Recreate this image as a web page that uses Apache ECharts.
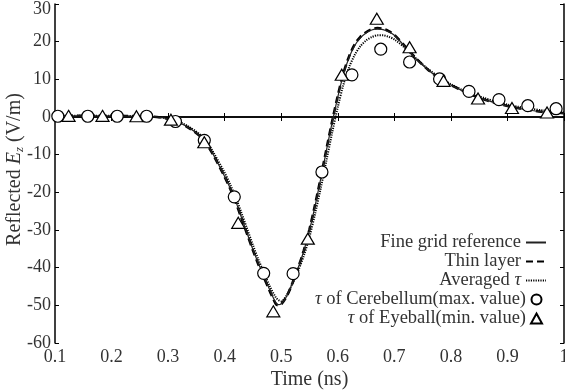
<!DOCTYPE html>
<html>
<head>
<meta charset="utf-8">
<script src="https://cdn.jsdelivr.net/npm/echarts@6/dist/echarts.min.js"></script>
<style>html,body{margin:0;padding:0;background:#fff}#c{width:565px;height:391px}</style>
</head>
<body>
<div id="c"></div>
<script>
const xCurve = [0.10,0.15,0.20,0.25,0.28,0.30,0.32,0.34,0.36,0.37,0.38,0.40,0.41,0.42,0.43,0.44,0.45,0.46,0.47,0.48,0.49,0.495,0.50,0.51,0.52,0.53,0.54,0.55,0.56,0.57,0.58,0.59,0.60,0.61,0.62,0.63,0.64,0.65,0.66,0.67,0.68,0.69,0.70,0.72,0.74,0.76,0.78,0.80,0.82,0.84,0.86,0.88,0.90,0.92,0.94,0.96,0.98,1.00];
const yFine = [0.3,0.3,0.3,0.2,0,-0.5,-1.5,-3.2,-5.5,-7.5,-10,-15.8,-19,-22.6,-26.8,-31,-35.2,-39,-42.5,-46,-49.2,-49.8,-49.6,-47.5,-44,-40,-35.5,-30,-23.5,-16.3,-8.8,-1.5,5.3,11.3,15.8,19,21,22.3,23.1,23.4,23.2,22.6,21.7,18.5,15.2,12.5,10.2,8.5,7.0,5.7,4.6,3.7,2.9,2.3,1.8,1.4,1.2,1.0];
const yThin = [0.3,0.3,0.3,0.2,0,-0.5,-1.5,-3.2,-5.6,-7.6,-10.1,-15.9,-19.1,-22.8,-27,-31.2,-35.4,-39.3,-42.8,-46.3,-49.5,-50,-49.7,-47.5,-44,-40,-35.4,-29.8,-23.2,-16,-8.5,-1.2,5.6,11.6,16.1,19.3,21.3,22.5,23.3,23.6,23.4,22.8,21.8,18.6,15.3,12.5,10.2,8.5,7.0,5.7,4.6,3.7,2.9,2.3,1.8,1.4,1.2,1.0];
const yAvg = [0.3,0.3,0.3,0.2,0,-0.4,-1.3,-2.9,-5.1,-7.0,-9.4,-14.8,-18,-21.5,-25.6,-29.8,-34,-38,-41.5,-45,-47.8,-48.6,-48.9,-47.3,-44.2,-40.8,-36.8,-31.8,-25.6,-18.8,-11.5,-4.2,2.6,8.6,13.2,16.5,18.8,20.3,21.2,21.7,21.7,21.3,20.6,18.2,15.3,12.7,10.5,8.7,7.2,6.0,5.0,4.1,3.3,2.7,2.2,1.8,1.5,1.2];
const xCircle = [0.105,0.158,0.210,0.262,0.313,0.364,0.417,0.469,0.521,0.572,0.625,0.676,0.727,0.780,0.832,0.885,0.936,0.986];
const yCircle = [0.2,0.2,0.2,0.2,-1.2,-6.2,-21.2,-41.5,-41.6,-14.6,11.2,18.0,14.6,10.1,6.8,4.6,3.0,2.2];
const xTri = [0.124,0.184,0.244,0.305,0.364,0.424,0.486,0.547,0.607,0.669,0.727,0.787,0.848,0.908,0.970];
const yTri = [0.3,0.3,0.2,-0.7,-6.7,-28.1,-51.6,-32.3,11.2,26.1,18.5,9.6,4.9,2.4,1.2];
const names = ['Fine grid reference','Thin layer','Averaged τ','τ of Cerebellum(max. value)','τ of Eyeball(min. value)'];
const xMin = 0.1, xMax = 1, xStep = 0.1;
const yMin = -60, yMax = 30, yStep = 10;

const zip = (xs, ys) => xs.map((x, i) => [x, ys[i]]);
const FONT = 'Liberation Serif';
const TXT = '#333';

const chart = echarts.init(document.getElementById('c'), null, {renderer: 'canvas'});
const axisCommon = {
  type: 'value',
  nameMoveOverlap: false,
  axisLine: {show: true, lineStyle: {color: '#000', width: 1.5}},
  axisTick: {show: true, inside: true, length: 4, lineStyle: {color: '#000', width: 1}},
  splitLine: {show: false}
};
const legendText = {fontFamily: FONT, fontSize: 18.5, color: TXT, lineHeight: 19,
  rich: {i: {fontFamily: FONT, fontStyle: 'italic', fontSize: 18.5, color: TXT, lineHeight: 19}}};
const noSym = {color: 'rgba(0,0,0,0)', borderWidth: 0};
chart.setOption({
  animation: false,
  textStyle: {fontFamily: FONT},
  grid: {left: 55, right: 1, top: 4, bottom: 48, containLabel: false, outerBoundsMode: 'none'},
  xAxis: [
    Object.assign({}, axisCommon, {
      min: xMin, max: xMax, interval: xStep, position: 'bottom',
      name: 'Time (ns)', nameLocation: 'middle', nameGap: 27,
      nameTextStyle: {fontFamily: FONT, fontSize: 20, color: TXT},
      axisLabel: {fontFamily: FONT, fontSize: 18, color: TXT, margin: 5,
        formatter: v => String(Math.round(v * 10) / 10)}
    }),
    Object.assign({}, axisCommon, {
      min: xMin, max: xMax, interval: xStep, position: 'top',
      axisLabel: {show: false}
    })
  ],
  yAxis: [
    Object.assign({}, axisCommon, {
      min: yMin, max: yMax, interval: yStep, position: 'left',
      name: 'Reflected {i|E}{s|z} (V/m)', nameLocation: 'middle', nameGap: 29,
      nameTextStyle: {fontFamily: FONT, fontSize: 20, color: TXT, padding: [0, 0, 0, 8],
        rich: {
          i: {fontFamily: FONT, fontStyle: 'italic', fontSize: 20, color: TXT},
          s: {fontFamily: FONT, fontStyle: 'italic', fontSize: 13, color: TXT, padding: [9, 0, 0, 0]}
        }},
      axisLabel: {fontFamily: FONT, fontSize: 18, color: TXT, margin: 4,
        formatter: v => v === yMax ? '{t|' + v + '}' : String(v),
        rich: {t: {fontFamily: FONT, fontSize: 18, color: TXT, padding: [10, 0, 0, 0]}}}
    }),
    Object.assign({}, axisCommon, {
      min: yMin, max: yMax, interval: yStep, position: 'right',
      axisLabel: {show: false}
    })
  ],
  legend: [
    {
      orient: 'vertical', right: 18, top: 233, align: 'right', padding: 0,
      itemWidth: 20, itemHeight: 10, itemGap: 0,
      data: names.slice(0, 3),
      formatter: n => n.replace('τ', '{i|τ}'),
      textStyle: legendText
    },
    {
      orient: 'vertical', right: 22, top: 290, align: 'right', padding: 0,
      itemWidth: 11, itemHeight: 10, itemGap: 0,
      data: names.slice(3),
      formatter: n => n.replace('τ', '{i|τ}'),
      textStyle: legendText
    }
  ],
  series: [
    {name: names[0], type: 'line', data: zip(xCurve, yFine), symbol: 'none', smooth: 0.3,
      itemStyle: noSym, lineStyle: {color: '#222', width: 1.2}, z: 3},
    {name: names[1], type: 'line', data: zip(xCurve, yThin), symbol: 'none', smooth: 0.3,
      itemStyle: noSym, lineStyle: {color: '#000', width: 2.6, type: [7, 4]}, z: 2},
    {name: names[2], type: 'line', data: zip(xCurve, yAvg), symbol: 'none', smooth: 0.3,
      itemStyle: noSym, lineStyle: {color: '#000', width: 2, type: [1.2, 1.2]}, z: 2},
    {name: names[3], type: 'scatter', data: zip(xCircle, yCircle), symbol: 'circle', symbolSize: 12,
      itemStyle: {color: '#fff', opacity: 1, borderColor: '#000', borderWidth: 1.2}, z: 5},
    {name: names[4], type: 'scatter', data: zip(xTri, yTri), symbol: 'triangle', symbolSize: [13, 11],
      itemStyle: {color: '#fff', opacity: 1, borderColor: '#000', borderWidth: 1.2}, z: 6}
  ]
});
</script>
</body>
</html>
